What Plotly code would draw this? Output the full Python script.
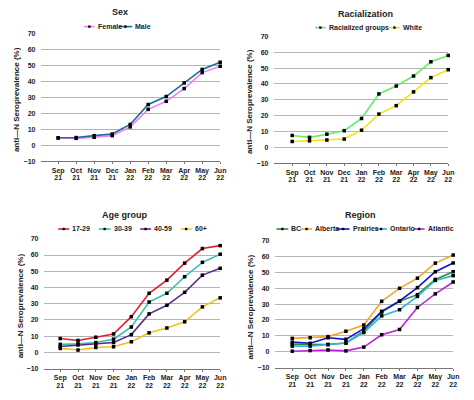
import plotly.graph_objects as go

W, H = 474, 400

month_labels = ["Sep", "Oct", "Nov", "Dec", "Jan", "Feb", "Mar", "Apr", "May", "Jun"]
year_labels = ["21", "21", "21", "21", "22", "22", "22", "22", "22", "22"]
x_idx = list(range(len(month_labels)))
y_ticks = [-10, 0, 10, 20, 30, 40, 50, 60, 70]

# Sex
female = [4.5, 4.3, 5.0, 6.0, 11.5, 22.5, 27.5, 35.5, 45.5, 49.5]
male = [4.7, 4.8, 6.0, 7.0, 13.0, 25.5, 30.5, 39.0, 47.5, 52.0]
# Racialization
racialized = [7.5, 6.3, 8.3, 10.5, 18.2, 33.7, 38.7, 45.0, 54.0, 58.0]
white = [3.7, 4.1, 4.6, 5.2, 10.8, 21.0, 26.3, 35.0, 44.0, 49.0]
# Age group
age_17_29 = [8.5, 7.3, 9.3, 11.3, 22.0, 36.4, 44.5, 55.0, 64.0, 65.8]
age_30_39 = [4.9, 5.2, 6.0, 8.1, 15.6, 31.0, 36.4, 46.6, 55.5, 60.5]
age_40_59 = [3.6, 4.5, 5.0, 6.0, 10.9, 23.7, 29.0, 37.0, 47.6, 51.8]
age_60p = [2.4, 1.4, 3.0, 3.4, 6.5, 12.0, 15.0, 18.8, 28.0, 33.6]
# Region
bc = [4.7, 4.5, 4.5, 5.5, 13.0, 25.0, 31.8, 36.0, 45.6, 50.5]
alberta = [8.4, 8.8, 9.5, 12.9, 16.8, 31.8, 40.0, 46.4, 55.9, 61.0]
prairies = [6.0, 5.3, 8.8, 7.8, 14.5, 25.5, 32.0, 40.4, 50.5, 56.0]
ontario = [3.5, 3.5, 4.5, 5.5, 12.1, 22.6, 26.5, 34.9, 45.0, 48.0]
atlantic = [0.3, 0.7, 1.1, 0.5, 2.9, 10.7, 14.0, 27.9, 36.5, 44.0]

FONT = "Liberation Sans, Arial, sans-serif"
TXT = "#222222"
GRID = "#b4b4b4"

panels = [
    dict(title="Sex",
         series=[("Female", female, "#ee82ee"), ("Male", male, "#1a6b9e")],
         px=(42, 223), py=(30, 160), xstart=-0.93,
         title_pos=(122, 8), ytitle_pos=(17, 97),
         legend=[(85, 96, 97), (120, 134, 135)], legend_y=23),
    dict(title="Racialization",
         series=[("Racialized groups", racialized, "#66ee66"), ("White", white, "#f2e600")],
         px=(278, 454), py=(33, 162), xstart=-1.02,
         title_pos=(370, 10), ytitle_pos=(252, 99),
         legend=[(319, 330, 331), (394, 405, 406)], legend_y=24),
    dict(title="Age group",
         series=[("17-29", age_17_29, "#e0202a"), ("30-39", age_30_39, "#3cbcb0"),
                 ("40-59", age_40_59, "#5a2d8a"), ("60+", age_60p, "#f2c21a")],
         px=(45, 223), py=(239, 371), xstart=-0.89,
         title_pos=(126, 215), ytitle_pos=(21, 307),
         legend=[(59, 70, 71), (100, 112, 113), (142, 153, 154), (183, 194, 195)], legend_y=229),
    dict(title="Region",
         series=[("BC", bc, "#2e8b3e"), ("Alberta", alberta, "#f5a623"),
                 ("Prairies", prairies, "#1414c8"), ("Ontario", ontario, "#30b4e0"),
                 ("Atlantic", atlantic, "#c020e0")],
         px=(279, 459), py=(241, 370), xstart=-0.94,
         title_pos=(365, 215), ytitle_pos=(254, 308),
         legend=[(280, 292, 293), (305, 316, 317), (341, 354, 355), (380, 392, 393), (419, 430, 431)],
         legend_y=229),
]


def fx(p):
    return p / W


def fy(p):
    return 1 - p / H


fig = go.Figure()
layout = dict(width=W, height=H, margin=dict(l=0, r=0, t=0, b=0),
              paper_bgcolor="white", plot_bgcolor="white", showlegend=False,
              font=dict(family=FONT, color=TXT), hovermode=False)
annotations = []
shapes = []
tickfont = dict(size=7, family=FONT, color=TXT, weight="bold")

for i, p in enumerate(panels):
    n = "" if i == 0 else str(i + 1)
    ny = str(i + 5)
    xa, ya = "x" + n, "y" + n
    for name, vals, col in p["series"]:
        fig.add_trace(go.Scatter(
            x=x_idx, y=vals, name=name, xaxis=xa, yaxis=ya, mode="lines+markers",
            line=dict(color=col, width=1.6),
            marker=dict(symbol="square", size=3.5, color="black"),
            cliponaxis=False))
    # invisible carrier trace so the year-label axis is drawn
    fig.add_trace(go.Scatter(
        x=x_idx, y=p["series"][0][1], xaxis="x" + ny, yaxis=ya, mode="lines",
        line=dict(width=0, color="rgba(0,0,0,0)"), opacity=0, hoverinfo="skip",
        showlegend=False))
    dom = [fx(p["px"][0]), fx(p["px"][1])]
    rng = [p["xstart"], 9.0]
    layout["xaxis" + n] = dict(
        domain=dom, anchor=ya,
        range=rng, tickmode="array", tickvals=x_idx, ticktext=month_labels,
        tickangle=0, showgrid=False, zeroline=False, showline=True,
        linecolor="#777777", linewidth=1,
        ticks="outside", ticklen=2, tickcolor="#777777", ticklabelstandoff=0,
        tickfont=tickfont)
    # second row of tick labels (year), overlaid on the same axis position
    layout["xaxis" + ny] = dict(
        domain=dom, anchor=ya, overlaying=xa,
        range=rng, tickmode="array", tickvals=x_idx, ticktext=year_labels,
        tickangle=0, showgrid=False, zeroline=False, showline=False,
        ticks="", ticklabelstandoff=11, side="bottom",
        tickfont=tickfont)
    layout["yaxis" + n] = dict(
        domain=[fy(p["py"][1]), fy(p["py"][0])], anchor=xa,
        range=[-10, 70], tickmode="array", tickvals=y_ticks,
        showgrid=True, gridcolor=GRID, gridwidth=1, zeroline=False, showline=False,
        ticks="", ticklabelstandoff=5,
        tickfont=tickfont)
    # panel title
    annotations.append(dict(text="<b>" + p["title"] + "</b>", x=fx(p["title_pos"][0]),
                            y=fy(p["title_pos"][1]), xref="paper", yref="paper",
                            showarrow=False, xanchor="center", yanchor="middle",
                            font=dict(size=9, family=FONT, color=TXT)))
    # y-axis title
    annotations.append(dict(text="<b>anti\u2014N Seroprevalence (%)</b>",
                            x=fx(p["ytitle_pos"][0]), y=fy(p["ytitle_pos"][1]),
                            xref="paper", yref="paper", showarrow=False, textangle=-90,
                            xanchor="center", yanchor="middle",
                            font=dict(size=8, family=FONT, color=TXT)))
    # legend
    ly = p["legend_y"]
    for (name, vals, col), (x0, x1, xt) in zip(p["series"], p["legend"]):
        shapes.append(dict(type="line", xref="paper", yref="paper",
                           x0=fx(x0), x1=fx(x1), y0=fy(ly), y1=fy(ly),
                           line=dict(color=col, width=1.6)))
        cx = (x0 + x1) / 2
        shapes.append(dict(type="rect", xref="paper", yref="paper",
                           x0=fx(cx - 1.2), x1=fx(cx + 1.2), y0=fy(ly + 1.2), y1=fy(ly - 1.2),
                           fillcolor="black", line=dict(width=0)))
        annotations.append(dict(text="<b>" + name + "</b>", x=fx(xt), y=fy(ly),
                                xref="paper", yref="paper", showarrow=False,
                                xanchor="left", yanchor="middle",
                                font=dict(size=7, family=FONT, color=TXT)))

layout["annotations"] = annotations
layout["shapes"] = shapes
fig.update_layout(**layout)
fig.write_html("out.html", config={"displayModeBar": False},
               post_script="document.body.style.margin='0';document.body.style.overflow='hidden';")
